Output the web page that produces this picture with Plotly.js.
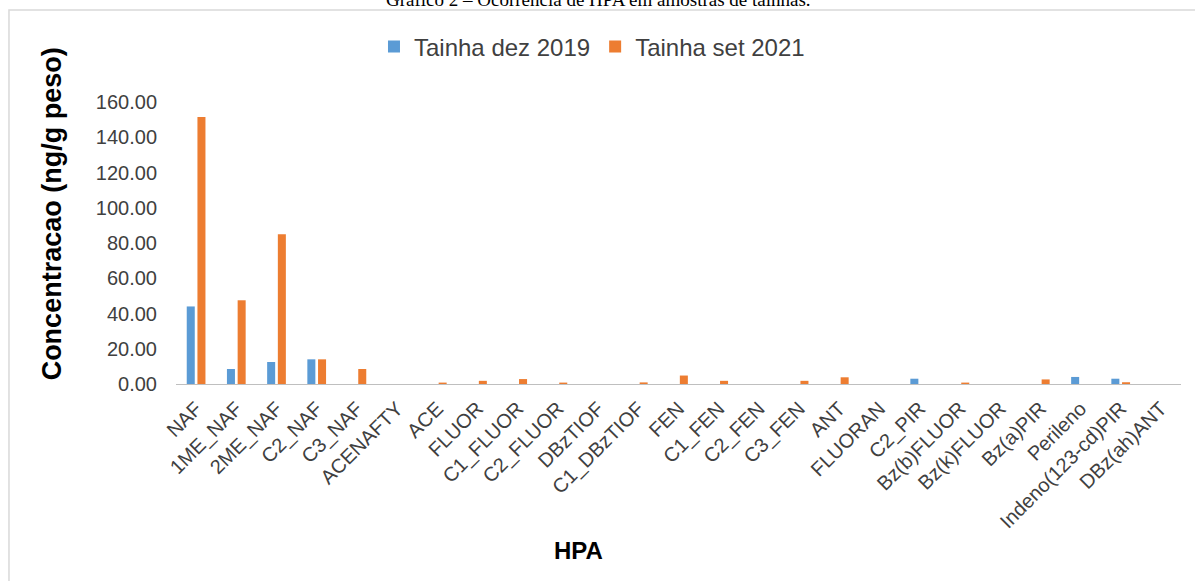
<!DOCTYPE html>
<html>
<head>
<meta charset="utf-8">
<script src="https://cdn.plot.ly/plotly-3.0.1.min.js"></script>
<style>html,body{margin:0;padding:0;background:#fff;overflow:hidden}</style>
</head>
<body>
<div id="chart" style="width:1195px;height:581px"></div>
<script>
const categories = ["NAF","1ME_NAF","2ME_NAF","C2_NAF","C3_NAF","ACENAFTY","ACE","FLUOR","C1_FLUOR","C2_FLUOR","DBzTIOF","C1_DBzTIOF","FEN","C1_FEN","C2_FEN","C3_FEN","ANT","FLUORAN","C2_PIR","Bz(b)FLUOR","Bz(k)FLUOR","Bz(a)PIR","Perileno","Indeno(123-cd)PIR","DBz(ah)ANT"];
const tainhaDez2019 = [44.0,8.5,12.5,14.0,0,0,0,0,0,0,0,0,0,0,0,0,0,0,3.0,0,0,0,4.0,3.0,0];
const tainhaSet2021 = [151.5,47.5,85.0,14.0,8.5,0,0.8,1.8,2.8,0.8,0,0.9,4.8,1.8,0,1.8,3.8,0,0,0.8,0,2.6,0,1.0,0];
const seriesNames = ["Tainha dez 2019","Tainha set 2021"];
const yTicks = [0,20,40,60,80,100,120,140,160];

const data = [
  {type:"bar", name:seriesNames[0], x:categories, y:tainhaDez2019, marker:{color:"#5B9BD5"}},
  {type:"bar", name:seriesNames[1], x:categories, y:tainhaSet2021, marker:{color:"#ED7D31"}}
];

const layout = {
  width:1195, height:581,
  paper_bgcolor:"#ffffff", plot_bgcolor:"#ffffff",
  margin:{l:176, r:14, t:102, b:197},
  barmode:"group", bargap:0.468, bargroupgap:0.25,
  font:{family:"Liberation Sans, Arial, sans-serif", color:"#404040"},
  showlegend:true,
  legend:{orientation:"h", x:0.197, xanchor:"left", y:1.195, yanchor:"middle",
          font:{size:24, color:"#404040"}, itemwidth:30, bgcolor:"rgba(0,0,0,0)"},
  xaxis:{type:"category", tickangle:-45, showline:true, linecolor:"#bfbfbf", linewidth:1,
         ticks:"", showgrid:false, zeroline:false, tickfont:{size:20, color:"#404040"},
         ticklabelstandoff:4, automargin:false},
  yaxis:{range:[0,160], tickvals:yTicks, tickformat:".2f", showline:false, showgrid:false,
         zeroline:false, ticks:"", tickfont:{size:20, color:"#404040"}, ticklabelstandoff:18,
         automargin:false},
  annotations:[
    {text:"Gráfico 2 – Ocorrência de HPA em amostras de tainhas.", xref:"paper", yref:"paper",
     x:0.42, y:1.32, xanchor:"center", yanchor:"bottom", showarrow:false,
     font:{family:"Liberation Serif, Times New Roman, serif", size:19, color:"#000"}},
    {text:"<b>Concentracao (ng/g peso)</b>", xref:"paper", yref:"paper", x:-0.1234, y:0.605,
     xanchor:"center", yanchor:"middle", textangle:-90, showarrow:false,
     font:{size:27, color:"#000"}},
    {text:"<b>HPA</b>", xref:"paper", yref:"paper", x:0.40, y:-0.589,
     xanchor:"center", yanchor:"middle", showarrow:false, font:{size:24, color:"#000"}}
  ],
  shapes:[
    {type:"rect", xref:"paper", yref:"paper", x0:-0.1662, x1:1.2, y0:-1.0, y1:1.326,
     line:{color:"#d9d9d9", width:1.5}, fillcolor:"rgba(0,0,0,0)", layer:"below"}
  ]
};

Plotly.newPlot("chart", data, layout, {displayModeBar:false, staticPlot:true});
</script>
</body>
</html>
